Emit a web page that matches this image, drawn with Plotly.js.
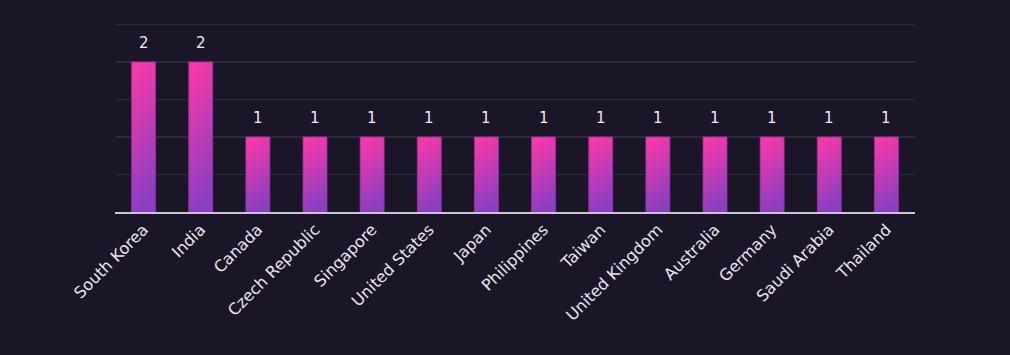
<!DOCTYPE html>
<html>
<head>
<meta charset="utf-8">
<script src="https://cdn.plot.ly/plotly-3.0.1.min.js"></script>
<style>
html,body{margin:0;padding:0;background:#1a1627;}
#chart{width:1010px;height:355px;}
</style>
</head>
<body>
<div id="chart"></div>
<script>
const countries = ["South Korea","India","Canada","Czech Republic","Singapore","United States","Japan","Philippines","Taiwan","United Kingdom","Australia","Germany","Saudi Arabia","Thailand"];
const counts = [2,2,1,1,1,1,1,1,1,1,1,1,1,1];

const FONT = '"DejaVu Sans", sans-serif';

const trace = {
  type: 'bar',
  x: countries,
  y: counts,
  marker: {color: '#e43aa8', line: {color: 'rgba(150,50,160,0.8)', width: 1}},
  hoverinfo: 'none'
};

const annotations = countries.map((c, i) => ({
  x: c, y: counts[i], xref: 'x', yref: 'y',
  text: String(counts[i]), showarrow: false,
  yanchor: 'bottom', yshift: 8,
  font: {family: FONT, size: 15, color: '#eeeaf2'}
}));

const layout = {
  width: 1010, height: 355,
  paper_bgcolor: '#1a1627', plot_bgcolor: '#1a1627',
  margin: {l: 115, r: 95, t: 23, b: 143},
  bargap: 0.58,
  showlegend: false,
  font: {family: FONT, color: '#e8e6ee'},
  annotations: annotations,
  xaxis: {
    tickangle: -45, showgrid: false, ticks: '',
    tickfont: {family: FONT, size: 16, color: '#e8e6ee'},
    showline: true, linecolor: '#c9c6d2', linewidth: 2
  },
  yaxis: {
    range: [0, 2.52], dtick: 0.5, showticklabels: false,
    gridcolor: '#2d2a3b', gridwidth: 1.5, zeroline: false, ticks: ''
  }
};

Plotly.newPlot('chart', [trace], layout, {displayModeBar: false, staticPlot: true}).then(gd => {
  const svg = gd.querySelector('svg.main-svg');
  const ns = 'http://www.w3.org/2000/svg';
  let defs = svg.querySelector('defs');
  if (!defs) { defs = document.createElementNS(ns, 'defs'); svg.insertBefore(defs, svg.firstChild); }
  const g = document.createElementNS(ns, 'linearGradient');
  g.setAttribute('id', 'barGrad');
  g.setAttribute('x1', '0.2'); g.setAttribute('y1', '1');
  g.setAttribute('x2', '0'); g.setAttribute('y2', '0');
  const s1 = document.createElementNS(ns, 'stop');
  s1.setAttribute('offset', '0'); s1.setAttribute('stop-color', '#8c3fc2');
  const s2 = document.createElementNS(ns, 'stop');
  s2.setAttribute('offset', '1'); s2.setAttribute('stop-color', '#ff38a6');
  g.appendChild(s1); g.appendChild(s2); defs.appendChild(g);
  gd.querySelectorAll('.bars .point path').forEach(p => { p.style.fill = 'url(#barGrad)'; });
});
</script>
</body>
</html>
